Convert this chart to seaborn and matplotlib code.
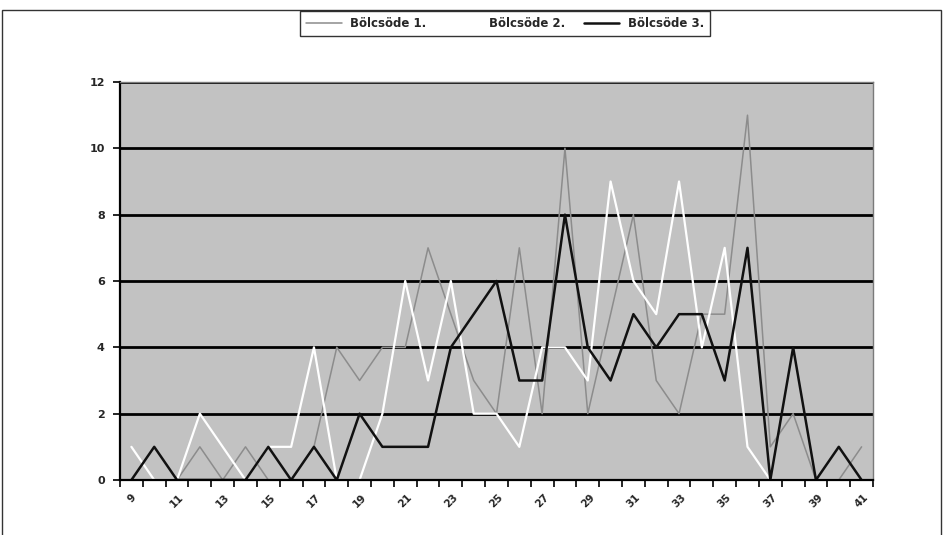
import numpy as np
import pandas as pd
import matplotlib
matplotlib.use("Agg")
import matplotlib.pyplot as plt
import seaborn as sns
from matplotlib.patches import Rectangle
from matplotlib.ticker import FixedLocator

weeks = list(range(9, 42))
bolcsode1 = [0, 0, 0, 1, 0, 1, 0, 0, 1, 4, 3, 4, 4, 7, 5, 3, 2, 7, 2, 10, 2, 5, 8, 3, 2, 5, 5, 11, 1, 2, 0, 0, 1]
bolcsode2 = [1, 0, 0, 2, 1, 0, 1, 1, 4, 0, 0, 2, 6, 3, 6, 2, 2, 1, 4, 4, 3, 9, 6, 5, 9, 4, 7, 1, 0, 0, 0, 0, 0]
bolcsode3 = [0, 1, 0, 0, 0, 0, 1, 0, 1, 0, 2, 1, 1, 1, 4, 5, 6, 3, 3, 8, 4, 3, 5, 4, 5, 5, 3, 7, 0, 4, 0, 1, 0]
series_names = ["Bölcsöde 1.", "Bölcsöde 2.", "Bölcsöde 3."]
y_ticks = [0, 2, 4, 6, 8, 10, 12]
x_tick_labels = [str(w) for w in weeks[::2]]

sns.set_style("white")
plt.rcParams['font.family'] = ['DejaVu Sans']

df = pd.DataFrame({
    "pos": list(range(len(weeks))) * 3,
    "value": bolcsode1 + bolcsode2 + bolcsode3,
    "series": [series_names[0]] * len(weeks) + [series_names[1]] * len(weeks) + [series_names[2]] * len(weeks),
})

colors = {series_names[0]: "#8c8c8c", series_names[1]: "#ffffff", series_names[2]: "#111111"}
widths = {series_names[0]: 1.1, series_names[1]: 1.6, series_names[2]: 1.8}

fig = plt.figure(figsize=(9.44, 5.35), dpi=100)
ax = fig.add_axes([120 / 944, 1 - 480 / 535, 753 / 944, 398 / 535])
ax.set_facecolor("#c2c2c2")

for name in series_names:
    sub = df[df["series"] == name]
    sns.lineplot(data=sub, x="pos", y="value", color=colors[name], linewidth=widths[name],
                 ax=ax, label=name, zorder=2)

n = len(weeks)
ax.set_xlim(-0.5, n - 0.5)
ax.set_ylim(0, 12)
ax.set_yticks(y_ticks)
ax.set_yticklabels([str(t) for t in y_ticks], fontsize=8, fontweight="bold")
ax.set_xticks(list(range(0, n, 2)))
ax.set_xticklabels(x_tick_labels, rotation=45, ha="center", fontsize=7.5, fontweight="bold")
ax.xaxis.set_minor_locator(FixedLocator([i - 0.5 for i in range(n + 1)]))
ax.tick_params(axis="x", which="major", length=0, pad=9)
ax.tick_params(axis="x", which="minor", length=5, width=1.2, color="black", direction="out", bottom=True)
ax.tick_params(axis="y", which="major", length=5, width=1.2, color="black", direction="out", left=True, pad=6)
ax.set_xlabel("")
ax.set_ylabel("")

ax.yaxis.grid(True, color="black", linewidth=2.0)
ax.xaxis.grid(False)
ax.set_axisbelow(True)

for side in ["left", "bottom"]:
    ax.spines[side].set_color("black")
    ax.spines[side].set_linewidth(1.6)
for side in ["top", "right"]:
    ax.spines[side].set_color("#7a7a7a")
    ax.spines[side].set_linewidth(1.0)

ax.get_legend().remove()
handles, labels = ax.get_legend_handles_labels()
leg = fig.legend(handles, labels, loc="center", bbox_to_anchor=(505 / 944, 1 - 23.5 / 535), ncol=3,
                 frameon=True, fancybox=False, shadow=False, handlelength=3.0,
                 columnspacing=1.6, handletextpad=0.7, borderpad=0.5, borderaxespad=0.0,
                 prop={"weight": "bold", "size": 8.5})
leg.get_frame().set_edgecolor("black")
leg.get_frame().set_linewidth(1.0)
leg.get_frame().set_facecolor("white")

fig.patches.append(Rectangle((0.002, -0.01), 0.995, 0.991, transform=fig.transFigure,
                             fill=False, edgecolor="#333333", linewidth=1.0))

fig.savefig("out.png", dpi=100, facecolor="white")
